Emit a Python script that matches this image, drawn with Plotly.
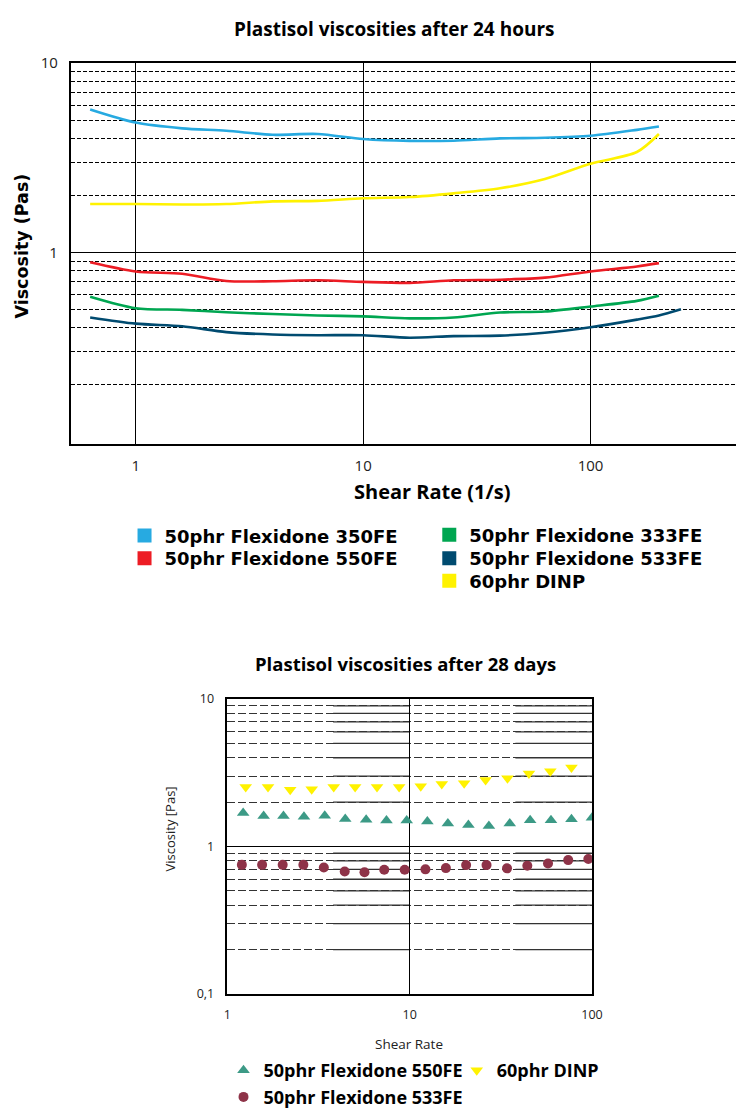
import plotly.graph_objects as go

W, H = 747, 1116

def px(p):
    return p / W

def py(p):
    return 1 - p / H

# ---------------- Top chart data (after 24 hours) ----------------
shear_24h = [0.63, 1, 1.6, 2.5, 4, 6.3, 10, 16, 25, 40, 63, 100, 160, 200]
visc_350FE = [5.69, 4.85, 4.52, 4.39, 4.18, 4.22, 3.97, 3.88, 3.89, 4.00, 4.03, 4.13, 4.44, 4.62]
visc_DINP_24h = [1.80, 1.80, 1.79, 1.80, 1.86, 1.87, 1.93, 1.96, 2.05, 2.18, 2.44, 2.94, 3.39, 4.22]
visc_550FE_24h = [0.887, 0.793, 0.771, 0.706, 0.704, 0.712, 0.698, 0.690, 0.712, 0.717, 0.735, 0.793, 0.842, 0.877]
visc_333FE = [0.583, 0.507, 0.497, 0.483, 0.472, 0.464, 0.459, 0.448, 0.453, 0.481, 0.487, 0.517, 0.554, 0.590]
shear_533FE_24h = [0.63, 1, 1.6, 2.5, 4, 6.3, 10, 16, 25, 40, 63, 100, 160, 200, 250]
visc_533FE_24h = [0.453, 0.420, 0.407, 0.379, 0.368, 0.365, 0.365, 0.354, 0.361, 0.363, 0.376, 0.402, 0.441, 0.464, 0.500]

# ---------------- Bottom chart data (after 28 days) ----------------
shear_550FE_28d = [1.22, 1.58, 2.03, 2.63, 3.42, 4.43, 5.77, 7.46, 9.63, 12.5, 16.2, 21.0, 27.2, 35.4, 45.8, 59.6, 77.2, 100]
visc_550FE_28d = [1.69, 1.61, 1.61, 1.59, 1.62, 1.54, 1.52, 1.50, 1.50, 1.48, 1.43, 1.40, 1.38, 1.43, 1.51, 1.51, 1.53, 1.57]
shear_533FE_28d = [1.20, 1.55, 2.01, 2.61, 3.38, 4.40, 5.65, 7.25, 9.39, 12.2, 15.8, 20.4, 26.4, 34.2, 44.2, 57.4, 74.1, 95.5]
visc_533FE_28d = [0.751, 0.751, 0.751, 0.751, 0.721, 0.678, 0.670, 0.695, 0.695, 0.700, 0.714, 0.748, 0.748, 0.711, 0.741, 0.768, 0.809, 0.822]
shear_DINP_28d = [1.26, 1.67, 2.21, 2.90, 3.83, 5.02, 6.62, 8.75, 11.5, 15.0, 19.9, 26.1, 34.4, 45.1, 59.1, 77.2]
visc_DINP_28d = [2.53, 2.53, 2.43, 2.45, 2.53, 2.53, 2.53, 2.53, 2.56, 2.65, 2.69, 2.83, 2.90, 3.13, 3.24, 3.43]

# tick values / labels
top_x_ticks = [1, 10, 100]
top_x_labels = ["1", "10", "100"]
top_y_ticks = [1, 10]
top_y_labels = ["1", "10"]
bot_x_ticks = [1, 10, 100]
bot_x_labels = ["1", "10", "100"]
bot_y_ticks = [0.1, 1, 10]
bot_y_labels = ["0,1", "1", "10"]
minor_y = [0.2, 0.3, 0.4, 0.5, 0.6, 0.7, 0.8, 0.9, 2, 3, 4, 5, 6, 7, 8, 9]

C_BLUE = "#27AAE1"
C_RED = "#ED1C24"
C_GREEN = "#00A651"
C_NAVY = "#004B70"
C_YELLOW = "#FFF200"
C_TEAL = "#3C9A86"
C_MAROON = "#8E3348"

FONT = "Open Sans"

fig = go.Figure()

top_series = [
    ("50phr Flexidone 350FE", shear_24h, visc_350FE, C_BLUE),
    ("60phr DINP", shear_24h, visc_DINP_24h, C_YELLOW),
    ("50phr Flexidone 550FE", shear_24h, visc_550FE_24h, C_RED),
    ("50phr Flexidone 333FE", shear_24h, visc_333FE, C_GREEN),
    ("50phr Flexidone 533FE", shear_533FE_24h, visc_533FE_24h, C_NAVY),
]
for name, xs, ys, col in top_series:
    fig.add_trace(go.Scatter(x=xs, y=ys, mode="lines", name=name,
                             line=dict(color=col, width=2.6, shape="spline", smoothing=0.8),
                             showlegend=False, xaxis="x", yaxis="y"))

# legend rows (square swatches) for the top chart, one legend per row
top_legend_rows = [
    ("50phr Flexidone 350FE", C_BLUE, "legend", 123, 534),
    ("50phr Flexidone 550FE", C_RED, "legend2", 123, 557),
    ("50phr Flexidone 333FE", C_GREEN, "legend3", 434, 533),
    ("50phr Flexidone 533FE", C_NAVY, "legend4", 434, 557),
    ("60phr DINP", C_YELLOW, "legend5", 434, 580),
]
for name, col, lg, _, _ in top_legend_rows:
    fig.add_trace(go.Scatter(x=[None], y=[None], mode="markers", name=name,
                             marker=dict(symbol="square", size=14, color=col),
                             legend=lg, xaxis="x", yaxis="y"))

# bottom chart markers
fig.add_trace(go.Scatter(x=shear_550FE_28d, y=visc_550FE_28d, mode="markers",
                         name="50phr Flexidone 550FE",
                         marker=dict(symbol="triangle-up", size=11, color=C_TEAL),
                         legend="legend6", xaxis="x2", yaxis="y2"))
fig.add_trace(go.Scatter(x=shear_533FE_28d, y=visc_533FE_28d, mode="markers",
                         name="50phr Flexidone 533FE",
                         marker=dict(symbol="circle", size=10, color=C_MAROON),
                         legend="legend7", xaxis="x2", yaxis="y2"))
fig.add_trace(go.Scatter(x=shear_DINP_28d, y=visc_DINP_28d, mode="markers",
                         name="60phr DINP",
                         marker=dict(symbol="triangle-down", size=11, color=C_YELLOW),
                         legend="legend8", xaxis="x2", yaxis="y2"))

bottom_legend_rows = [("legend6", 224, 1078), ("legend7", 224, 1105), ("legend8", 462, 1078)]

tickfont_top = dict(family=FONT, size=15, color="#222")
tickfont_bot = dict(family=FONT, size=12.5, color="#222")

# solid right-hand segments of the bottom chart's minor gridlines
shapes = []
for v in minor_y:
    for a, b in [(3.8, 10), (38, 100)]:
        shapes.append(dict(type="line", xref="x2", yref="y2",
                           x0=a, x1=b, y0=v, y1=v,
                           line=dict(color="#333", width=1.3), layer="below"))

legends = {}
for name, col, lg, lx, ly in top_legend_rows:
    legends[lg] = dict(x=px(lx), y=py(ly), xanchor="left", yanchor="middle",
                       font=dict(family="DejaVu Sans", size=18, weight=700, color="black"),
                       bgcolor="rgba(0,0,0,0)", itemclick=False, borderwidth=0)
for lg, lx, ly in bottom_legend_rows:
    legends[lg] = dict(x=px(lx), y=py(ly), xanchor="left", yanchor="middle",
                       font=dict(family=FONT, size=18, weight=700, color="black"),
                       bgcolor="rgba(0,0,0,0)", itemclick=False, borderwidth=0)

fig.update_layout(
    width=W, height=H,
    margin=dict(l=0, r=0, t=0, b=0),
    paper_bgcolor="white", plot_bgcolor="white",
    xaxis=dict(domain=[px(68), 1.0], type="log", range=[-0.2865, 2.640],
               tickmode="array", tickvals=top_x_ticks, ticktext=top_x_labels,
               showgrid=True, gridcolor="black", gridwidth=1,
               showline=True, linecolor="black", linewidth=1.5, mirror=True,
               ticks="", tickfont=tickfont_top, ticklabelstandoff=8, zeroline=False),
    yaxis=dict(domain=[py(440), py(53)], type="log", range=[-1.01, 1.0],
               tickmode="array", tickvals=top_y_ticks, ticktext=top_y_labels,
               showgrid=True, gridcolor="black", gridwidth=1.2,
               minor=dict(tickmode="array", tickvals=minor_y, showgrid=True,
                          gridcolor="black", gridwidth=1, griddash="4px,2px", ticks=""),
               showline=True, linecolor="black", linewidth=1.5,
               ticks="", tickfont=tickfont_top, ticklabelstandoff=8, zeroline=False),
    xaxis2=dict(domain=[px(228), px(600)], type="log", range=[0, 2], anchor="y2",
                tickmode="array", tickvals=bot_x_ticks, ticktext=bot_x_labels,
                showgrid=True, gridcolor="black", gridwidth=1.2,
                showline=True, linecolor="black", linewidth=1.5, mirror=True,
                ticks="", tickfont=tickfont_bot, ticklabelstandoff=8, zeroline=False),
    yaxis2=dict(domain=[py(1000), py(700)], type="log", range=[-1, 1], anchor="x2",
                tickmode="array", tickvals=bot_y_ticks, ticktext=bot_y_labels,
                showgrid=True, gridcolor="black", gridwidth=1.2,
                minor=dict(tickmode="array", tickvals=minor_y, showgrid=True,
                           gridcolor="#333", gridwidth=1.3, griddash="8px,3px", ticks=""),
                showline=True, linecolor="black", linewidth=1.5, mirror=True,
                ticks="", tickfont=tickfont_bot, ticklabelstandoff=9, zeroline=False),
    shapes=shapes,
    annotations=[
        dict(text="Plastisol viscosities after 24 hours", x=px(398), y=py(18),
             xref="paper", yref="paper", showarrow=False, xanchor="center", yanchor="middle",
             font=dict(family=FONT, size=19, weight=700, color="black")),
        dict(text="Viscosity (Pas)", x=px(18), y=py(239), textangle=-90,
             xref="paper", yref="paper", showarrow=False, xanchor="center", yanchor="middle",
             font=dict(family="DejaVu Sans", size=17.5, weight=700, color="black")),
        dict(text="Shear Rate (1/s)", x=px(437), y=py(489),
             xref="paper", yref="paper", showarrow=False, xanchor="center", yanchor="middle",
             font=dict(family=FONT, size=20, weight=700, color="black")),
        dict(text="Plastisol viscosities after 28 days", x=px(410), y=py(664),
             xref="paper", yref="paper", showarrow=False, xanchor="center", yanchor="middle",
             font=dict(family=FONT, size=18.5, weight=700, color="black")),
        dict(text="Viscosity [Pas]", x=px(169), y=py(832), textangle=-90,
             xref="paper", yref="paper", showarrow=False, xanchor="center", yanchor="middle",
             font=dict(family=FONT, size=13, color="#222")),
        dict(text="Shear Rate", x=px(413), y=py(1051),
             xref="paper", yref="paper", showarrow=False, xanchor="center", yanchor="middle",
             font=dict(family=FONT, size=13.5, color="#222")),
    ],
    **legends,
)

fig.write_html("out.html")
